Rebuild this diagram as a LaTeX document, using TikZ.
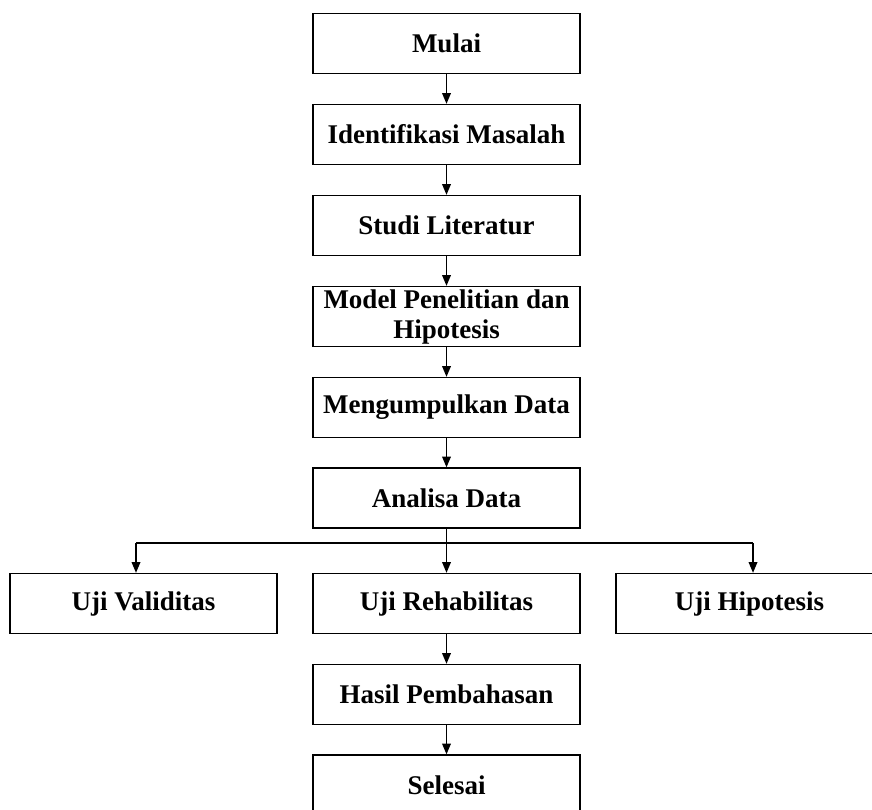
\documentclass[tikz,border=0pt]{standalone}
\usepackage{fontspec}
\setmainfont{Liberation Serif}
\usetikzlibrary{arrows}

\begin{document}
\begin{tikzpicture}[x=1pt,y=-1pt,
  kotak/.style={draw,line width=1.5pt,minimum width=267pt,minimum height=60pt,
    inner sep=0pt,align=center,font=\bfseries\fontsize{27}{30}\selectfont},
  panah/.style={-triangle 45,line width=1.5pt}]
\useasboundingbox (0,0) rectangle (872,809);
% alur utama
\node[kotak] (mulai) at (446.5,43.5) {Mulai};
\node[kotak] (identifikasi) at (446.5,134.5) {Identifikasi Masalah};
\node[kotak] (studi) at (446.5,225.5) {Studi Literatur};
\node[kotak] (model) at (446.5,316.5) {Model Penelitian dan\\Hipotesis};
\node[kotak] (data) at (446.5,407.5) {Mengumpulkan Data};
\node[kotak] (analisa) at (446.5,498) {Analisa Data};
% pengujian
\node[kotak] (validitas) at (143.5,603.5) {Uji Validitas};
\node[kotak] (rehabilitas) at (446.5,603.5) {Uji Rehabilitas};
\node[kotak] (hipotesis) at (749.5,603.5) {Uji Hipotesis};
\node[kotak] (hasil) at (446.5,694.5) {Hasil Pembahasan};
\node[kotak] (selesai) at (446.5,785) {Selesai};
\coordinate (kiri) at (136,543);
\coordinate (kanan) at (753,543);
\draw[panah] (mulai) -- (identifikasi);
\draw[panah] (identifikasi) -- (studi);
\draw[panah] (studi) -- (model);
\draw[panah] (model) -- (data);
\draw[panah] (data) -- (analisa);
\draw[line width=1.5pt] (kiri) -- (kanan);
\draw[panah] (analisa) -- (rehabilitas);
\draw[panah] (kiri) -- (kiri |- validitas.north);
\draw[panah] (kanan) -- (kanan |- hipotesis.north);
\draw[panah] (rehabilitas) -- (hasil);
\draw[panah] (hasil) -- (selesai);
\end{tikzpicture}
\end{document}
